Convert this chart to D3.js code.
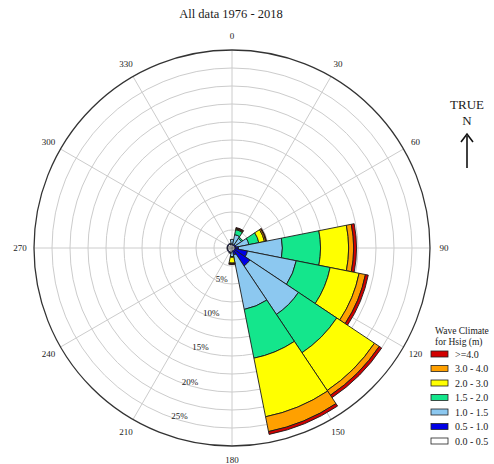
<!DOCTYPE html>
<html>
<head>
<meta charset="utf-8">
<script src="https://cdn.jsdelivr.net/npm/d3@7"></script>
<style>
  html, body { margin: 0; padding: 0; background: #fff; }
  svg text { font-family: "Liberation Serif", "Times New Roman", serif; fill: #1a1a1a; }
</style>
</head>
<body>
<svg id="rose" width="494" height="464"></svg>
<script>
// Direction bins (degrees from true north, 22.5° sectors)
const directions = [0, 22.5, 45, 67.5, 90, 112.5, 135, 157.5, 180, 202.5, 225, 247.5, 270, 292.5, 315, 337.5];

// Hsig classes, from the centre outwards
const classes = ["0.0 - 0.5", "0.5 - 1.0", "1.0 - 1.5", "1.5 - 2.0", "2.0 - 3.0", "3.0 - 4.0", ">=4.0"];
const classColors = ["#ffffff", "#0000e6", "#8cc8f0", "#14e68c", "#ffff00", "#ffa000", "#d20000"];

// Occurrence (%) per direction bin for each Hsig class
const hs00_05 = [0.4, 0.4, 0.4, 0.4, 0.4, 0.4, 0.4, 0.4, 0.4, 0.6, 0.6, 0.6, 0.6, 0.6, 0.6, 0.5];
const hs05_10 = [0.1, 0.1, 0.2, 0.2, 0.5, 1.8, 2.6, 0.6, 0.1, 0.1, 0.1, 0.1, 0.1, 0.1, 0.1, 0.1];
const hs10_15 = [0.7, 1.4, 1.0, 1.8, 6.1, 6.9, 8.1, 7.7, 0.7, 0.1, 0.0, 0.0, 0.0, 0.0, 0.0, 0.1];
const hs15_20 = [0.0, 0.7, 0.2, 1.4, 5.3, 4.8, 6.4, 6.9, 0.1, 0.0, 0.0, 0.0, 0.0, 0.0, 0.0, 0.0];
const hs20_30 = [0.0, 0.1, 0.0, 0.8, 3.9, 4.1, 6.3, 8.3, 0.8, 0.0, 0.0, 0.0, 0.0, 0.0, 0.0, 0.0];
const hs30_40 = [0.0, 0.1, 0.0, 0.2, 0.7, 0.9, 0.8, 2.1, 0.1, 0.0, 0.0, 0.0, 0.0, 0.0, 0.0, 0.0];
const hs40 =    [0.0, 0.1, 0.0, 0.1, 0.4, 0.4, 0.4, 0.4, 0.1, 0.0, 0.0, 0.0, 0.0, 0.0, 0.0, 0.0];

const series = [hs00_05, hs05_10, hs10_15, hs15_20, hs20_30, hs30_40, hs40];

// Grid definitions
const ringValues = [2.5, 5, 7.5, 10, 12.5, 15, 17.5, 20, 22.5, 25];
const ringLabels = [5, 10, 15, 20, 25];
const maxPercent = 27.5;
const spokeAngles = [0, 30, 60, 90, 120, 150, 180, 210, 240, 270, 300, 330];

const titleText = "All data 1976 - 2018";

// Layout
const cx = 232, cy = 248, outerR = 198;
const svg = d3.select("#rose");
const r = d3.scaleLinear().domain([0, maxPercent]).range([0, outerR]);
const rad = d => d * Math.PI / 180;
const g = svg.append("g").attr("transform", `translate(${cx},${cy})`);

// Grid rings
g.selectAll("circle.ring").data(ringValues).enter().append("circle")
  .attr("class", "ring").attr("r", d => r(d))
  .attr("fill", "none").attr("stroke", "#cccccc").attr("stroke-width", 1);

// Spokes
g.selectAll("line.spoke").data(spokeAngles).enter().append("line")
  .attr("x1", 0).attr("y1", 0)
  .attr("x2", d => r(maxPercent) * Math.sin(rad(d)))
  .attr("y2", d => -r(maxPercent) * Math.cos(rad(d)))
  .attr("stroke", "#cccccc").attr("stroke-width", 1);

// Outer boundary
g.append("circle").attr("r", r(maxPercent)).attr("fill", "none")
  .attr("stroke", "#333").attr("stroke-width", 1.3);

// Stacked petals
const stackedData = [];
directions.forEach((dir, i) => {
  let base = 0;
  series.forEach((s, k) => {
    const v = s[i];
    if (v > 0) stackedData.push({ dir, k, r0: base, r1: base + v });
    base += v;
  });
});

const arc = d3.arc()
  .innerRadius(d => r(d.r0))
  .outerRadius(d => r(d.r1))
  .startAngle(d => rad(d.dir - 11.25))
  .endAngle(d => rad(d.dir + 11.25));

g.selectAll("path.petal").data(stackedData).enter().append("path")
  .attr("class", "petal")
  .attr("d", arc)
  .attr("fill", d => classColors[d.k])
  .attr("stroke", d => d.k === 0 ? "#777" : "#1a1a1a")
  .attr("stroke-width", d => d.k === 0 ? 0.6 : 0.9)
  .attr("stroke-linejoin", "miter");

// Angle labels
g.selectAll("text.deg").data(spokeAngles).enter().append("text")
  .attr("x", d => 212 * Math.sin(rad(d)))
  .attr("y", d => -212 * Math.cos(rad(d)) + 3)
  .attr("text-anchor", "middle").attr("font-size", 9)
  .text(d => d);

// Percentage labels along the 200° bearing
g.selectAll("text.pct").data(ringLabels).enter().append("text")
  .attr("x", d => (r(d) - 4) * Math.sin(rad(197)) - 1)
  .attr("y", d => -(r(d) - 4) * Math.cos(rad(197)) + 3)
  .attr("text-anchor", "middle").attr("font-size", 9)
  .text(d => d + "%");

// Title
svg.append("text").attr("x", 231).attr("y", 18).attr("text-anchor", "middle")
  .attr("font-size", 12.5).text(titleText);

// North marker
const nx = 467;
svg.append("text").attr("x", nx).attr("y", 109).attr("text-anchor", "middle")
  .attr("font-size", 13).text("TRUE");
svg.append("text").attr("x", nx).attr("y", 125).attr("text-anchor", "middle")
  .attr("font-size", 13).text("N");
svg.append("line").attr("x1", nx).attr("y1", 168).attr("x2", nx).attr("y2", 136)
  .attr("stroke", "#111").attr("stroke-width", 1.6);
svg.append("path").attr("d", `M${nx - 6},${142} L${nx},${134} L${nx + 6},${142}`)
  .attr("fill", "none").attr("stroke", "#111").attr("stroke-width", 1.6);

// Legend
const lg = svg.append("g").attr("transform", "translate(431,0)");
lg.append("text").attr("x", 4).attr("y", 334).attr("font-size", 9.5).text("Wave Climate");
lg.append("text").attr("x", 4).attr("y", 345).attr("font-size", 9.5).text("for Hsig (m)");
const legendOrder = d3.range(classes.length).reverse();
const ly = d3.scalePoint().domain(legendOrder).range([354, 441]);
lg.selectAll("rect.key").data(legendOrder).enter().append("rect")
  .attr("x", 0).attr("y", d => ly(d) - 3).attr("width", 17).attr("height", 6)
  .attr("fill", d => classColors[d]).attr("stroke", "#222").attr("stroke-width", 0.8);
lg.selectAll("text.key").data(legendOrder).enter().append("text")
  .attr("x", 24).attr("y", d => ly(d) + 3.5).attr("font-size", 10)
  .text(d => classes[d]);
</script>
</body>
</html>
